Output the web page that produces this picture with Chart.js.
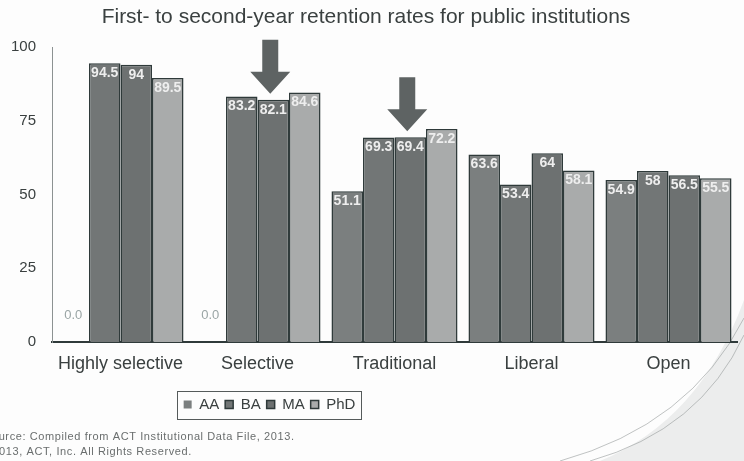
<!DOCTYPE html>
<html>
<head>
<meta charset="utf-8">
<script src="https://cdn.jsdelivr.net/npm/chart.js@4.4.1/dist/chart.umd.min.js"></script>
<style>
  html, body { margin: 0; padding: 0; background: #fdfdfd; }
  #wrap { width: 744px; height: 461px; position: relative; }
</style>
</head>
<body>
<div id="wrap"><canvas id="retentionChart"></canvas></div>
<script>
// data
const categories = ['Highly selective', 'Selective', 'Traditional', 'Liberal', 'Open'];
const seriesNames = ['AA', 'BA', 'MA', 'PhD'];
const aaValues = [0, 0, 51.1, 63.6, 54.9];
const baValues = [94.5, 83.2, 69.3, 53.4, 58];
const maValues = [94, 82.1, 69.4, 64, 56.5];
const phdValues = [89.5, 84.6, 72.2, 58.1, 55.5];
const yTicks = [0, 25, 50, 75, 100];
const arrowCategories = ['Selective', 'Traditional'];   // arrows point at the MA bar
const titleText = 'First- to second-year retention rates for public institutions';
const sourceLines = [
    'Source: Compiled from ACT Institutional Data File, 2013.',
    '\u00A9 2013, ACT, Inc. All Rights Reserved.'
];

const barColors = ['#7b7f7f', '#727676', '#6d7171', '#a9abab'];
const edgeColor = '#2f3a3a';
const fontFamily = "'Liberation Sans', Arial, sans-serif";

function fmt(v) {
    return v === 0 ? '0.0' : String(v);
}

// background with the faint swoosh in the bottom right corner
const backgroundPlugin = {
    id: 'backgroundPlugin',
    beforeDraw(chart) {
        const ctx = chart.ctx;
        ctx.save();
        ctx.fillStyle = '#fdfdfd';
        ctx.fillRect(0, 0, chart.width, chart.height);

        ctx.beginPath();
        ctx.moveTo(744, 300);
        ctx.quadraticCurveTo(700, 420, 600, 461);
        ctx.lineTo(744, 461);
        ctx.closePath();
        ctx.fillStyle = 'rgba(215, 218, 218, 0.45)';
        ctx.fill();

        ctx.strokeStyle = 'rgba(150, 155, 155, 0.6)';
        ctx.lineWidth = 1;
        ctx.beginPath();
        ctx.moveTo(744, 318);
        ctx.quadraticCurveTo(690, 425, 560, 461);
        ctx.stroke();
        ctx.beginPath();
        ctx.moveTo(744, 335);
        ctx.quadraticCurveTo(700, 430, 590, 461);
        ctx.stroke();
        ctx.restore();
    }
};

// the legend sits left of centre in the original
const legendShiftPlugin = {
    id: 'legendShiftPlugin',
    afterLayout(chart) {
        chart.legend.right -= 198;
    }
};

// value labels, arrows, legend frame, title and source text
const decorPlugin = {
    id: 'decorPlugin',
    afterDatasetsDraw(chart) {
        const ctx = chart.ctx;
        ctx.save();
        ctx.textAlign = 'center';
        chart.data.datasets.forEach(function(ds, i) {
            const meta = chart.getDatasetMeta(i);
            meta.data.forEach(function(bar, j) {
                const v = ds.data[j];
                if (v === 0) {
                    ctx.font = '13px ' + fontFamily;
                    ctx.fillStyle = '#9aa5a5';
                    ctx.textBaseline = 'bottom';
                    ctx.fillText(fmt(v), bar.x, bar.y - 20);
                } else {
                    ctx.font = 'bold 14px ' + fontFamily;
                    ctx.fillStyle = '#eeeeee';
                    ctx.textBaseline = 'top';
                    ctx.fillText(fmt(v), bar.x, bar.y + 3);
                }
            });
        });

        // arrows above the MA bars
        const maMeta = chart.getDatasetMeta(seriesNames.indexOf('MA'));
        arrowCategories.forEach(function(cat) {
            const bar = maMeta.data[categories.indexOf(cat)];
            const tipY = bar.y - 6;
            const cx = bar.x - 3;
            ctx.fillStyle = '#5e6363';
            ctx.beginPath();
            ctx.moveTo(cx - 8, tipY - 54);
            ctx.lineTo(cx + 8, tipY - 54);
            ctx.lineTo(cx + 8, tipY - 22);
            ctx.lineTo(cx + 20, tipY - 22);
            ctx.lineTo(cx, tipY);
            ctx.lineTo(cx - 20, tipY - 22);
            ctx.lineTo(cx - 8, tipY - 22);
            ctx.closePath();
            ctx.fill();
        });
        ctx.restore();
    },
    afterDraw(chart) {
        const ctx = chart.ctx;
        ctx.save();
        ctx.fillStyle = '#3a4040';
        ctx.font = '21px ' + fontFamily;
        ctx.textAlign = 'center';
        ctx.textBaseline = 'middle';
        ctx.fillText(titleText, 366, 17);

        // frame round the legend
        const boxes = chart.legend.legendHitBoxes;
        if (boxes && boxes.length) {
            const first = boxes[0];
            const last = boxes[boxes.length - 1];
            const cy = first.top + first.height / 2;
            ctx.strokeStyle = '#555b5b';
            ctx.lineWidth = 1;
            ctx.strokeRect(Math.round(first.left - 7) + 0.5, Math.round(cy - 14) + 0.5,
                Math.round(last.left + last.width - first.left + 12), 28);
        }

        ctx.fillStyle = '#6a6e6e';
        ctx.font = '11px ' + fontFamily;
        ctx.letterSpacing = '0.6px';
        ctx.textAlign = 'left';
        ctx.fillText(sourceLines[0], -16, 437);
        ctx.fillText(sourceLines[1], -20, 452);
        ctx.restore();
    }
};

const ctxRetention = document.getElementById('retentionChart');

new Chart(ctxRetention, {
    type: 'bar',
    data: {
        labels: categories,
        datasets: [aaValues, baValues, maValues, phdValues].map(function(values, i) {
            return {
                label: seriesNames[i],
                data: values,
                backgroundColor: barColors[i],
                borderColor: edgeColor,
                borderWidth: function(c) {
                    return c.raw === 0 ? 0 : 1.5;
                },
                borderSkipped: 'bottom',
                barPercentage: 1,
                categoryPercentage: 0.92
            };
        })
    },
    options: {
        responsive: true,
        maintainAspectRatio: false,
        animation: false,
        devicePixelRatio: 1,
        layout: {
            padding: { top: 47, right: 7, bottom: 39, left: 0 }
        },
        scales: {
            x: {
                grid: { display: false, drawTicks: false },
                border: { color: edgeColor, width: 2 },
                ticks: {
                    color: '#3a4040',
                    padding: 11,
                    font: { family: fontFamily, size: 18 }
                },
                afterFit: function(scale) {
                    scale.height = 49;
                }
            },
            y: {
                min: 0,
                max: 100,
                grid: { display: false, drawTicks: false },
                border: { color: '#8c9292', width: 1 },
                afterBuildTicks: function(scale) {
                    scale.ticks = yTicks.map(function(v) { return { value: v }; });
                },
                ticks: {
                    color: '#3a4040',
                    padding: 16,
                    font: { family: fontFamily, size: 15 }
                },
                afterFit: function(scale) {
                    scale.width = 52;
                }
            }
        },
        plugins: {
            legend: {
                position: 'bottom',
                labels: {
                    boxWidth: 8,
                    boxHeight: 8,
                    padding: 6,
                    color: '#3a4040',
                    font: { family: fontFamily, size: 15 }
                }
            },
            tooltip: { enabled: false }
        }
    },
    plugins: [backgroundPlugin, legendShiftPlugin, decorPlugin]
});
</script>
</body>
</html>
